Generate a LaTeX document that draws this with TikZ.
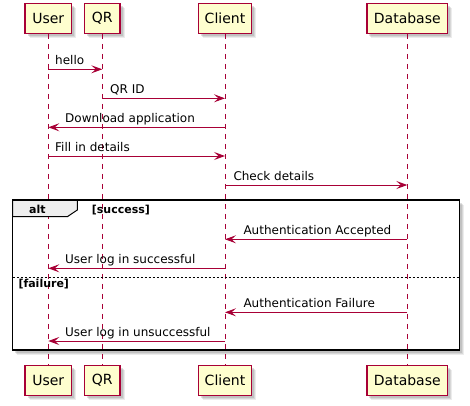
\documentclass[tikz,border=0pt]{standalone}
\usepackage{fontspec}
\setmainfont{DejaVu Sans}
\usetikzlibrary{arrows.meta,shadows}
\definecolor{pred}{HTML}{A80036}
\definecolor{pfill}{HTML}{FEFECE}
\definecolor{tabfill}{HTML}{EEEEEE}
\tikzset{
  softshadow/.style={
    drop shadow={shadow xshift=4.5pt, shadow yshift=-4.5pt, fill=black!50, opacity=.15},
    drop shadow={shadow xshift=3.5pt, shadow yshift=-3.5pt, fill=black!50, opacity=.2},
    drop shadow={shadow xshift=2.5pt, shadow yshift=-2.5pt, fill=black!50, opacity=.25}},
  part/.style={draw=pred, fill=pfill, line width=1.3pt, minimum height=30pt,
    inner sep=0pt, font=\fontsize{14}{16}\selectfont, softshadow},
  life/.style={draw=pred, color=pred, line width=1pt, dash pattern=on 5pt off 5pt},
  msg/.style={draw=pred, color=pred, line width=1pt, -{Stealth[length=11pt,width=8pt,inset=4.5pt]}},
  lbl/.style={anchor=base west, inner sep=0pt, text=black, font=\fontsize{12}{14}\selectfont},
  frm/.style={draw=black, line width=1.5pt},
  grd/.style={anchor=base west, inner sep=0pt, font=\fontsize{11}{13}\selectfont\bfseries},
}
\begin{document}
\begin{tikzpicture}[x=1pt,y=-1pt]
\useasboundingbox (0,0) rectangle (470,405);
% participants top
\node[part, minimum width=46.6pt] (ut) at (48.3,18.3) {User};
\node[part, minimum width=35.4pt] (qt) at (102.3,18.3) {QR};
\node[part, minimum width=52.7pt] (ct) at (225,18.3) {Client};
\node[part, minimum width=80.7pt] (dt) at (407.3,18.3) {Database};
% participants bottom
\node[part, minimum width=46.6pt] (ub) at (48.3,380.2) {User};
\node[part, minimum width=35.4pt] (qb) at (102.3,380.2) {QR};
\node[part, minimum width=52.7pt] (cb) at (225,380.2) {Client};
\node[part, minimum width=80.7pt] (db) at (407.3,380.2) {Database};
% alt frame
\draw[frm, softshadow, fill=white]
  (12.7,200) rectangle (459.3,350);
% lifelines
\draw[life] (ut.south) -- (ub.north);
\draw[life] (qt.south) -- (qb.north);
\draw[life] (ct.south) -- (cb.north);
\draw[life] (dt.south) -- (db.north);
% tab
\draw[fill=tabfill, draw=black, line width=1pt]
  (12.7,200) -- (77.3,200) -- (77.3,210) -- (67.3,216.7) -- (12.7,216.7) -- cycle;
\draw[frm] (12.7,200) rectangle (459.3,350);
\node[grd] (altl) at (29,213) {alt};
\node[grd] (g1) at (91.7,213) {[success]};
\draw[line width=0.8pt, dash pattern=on 2pt off 2pt] (12.7,277.3) -- (459.3,277.3);
\node[grd] (g2) at (18.3,287.7) {[failure]};
% messages
\draw[msg] (ut |- 0,69.3) -- (qt |- 0,69.3);
\node[lbl] (m1) at (55,64.3) {hello};
\draw[msg] (qt |- 0,98.3) -- (ct |- 0,98.3);
\node[lbl] (m2) at (110,93.3) {QR ID};
\draw[msg] (ct |- 0,127.3) -- (ut |- 0,127.3);
\node[lbl] (m3) at (65,122.3) {Download application};
\draw[msg] (ut |- 0,156) -- (ct |- 0,156);
\node[lbl] (m4) at (55,151) {Fill in details};
\draw[msg] (ct |- 0,185) -- (dt |- 0,185);
\node[lbl] (m5) at (233.3,180) {Check details};
\draw[msg] (dt |- 0,239.3) -- (ct |- 0,239.3);
\node[lbl] (m6) at (243.3,234.3) {Authentication Accepted};
\draw[msg] (ct |- 0,268.3) -- (ut |- 0,268.3);
\node[lbl] (m7) at (65,263.3) {User log in successful};
\draw[msg] (dt |- 0,312.3) -- (ct |- 0,312.3);
\node[lbl] (m8) at (243.3,307.3) {Authentication Failure};
\draw[msg] (ct |- 0,341) -- (ut |- 0,341);
\node[lbl] (m9) at (65,336) {User log in unsuccessful};
\end{tikzpicture}
\end{document}
